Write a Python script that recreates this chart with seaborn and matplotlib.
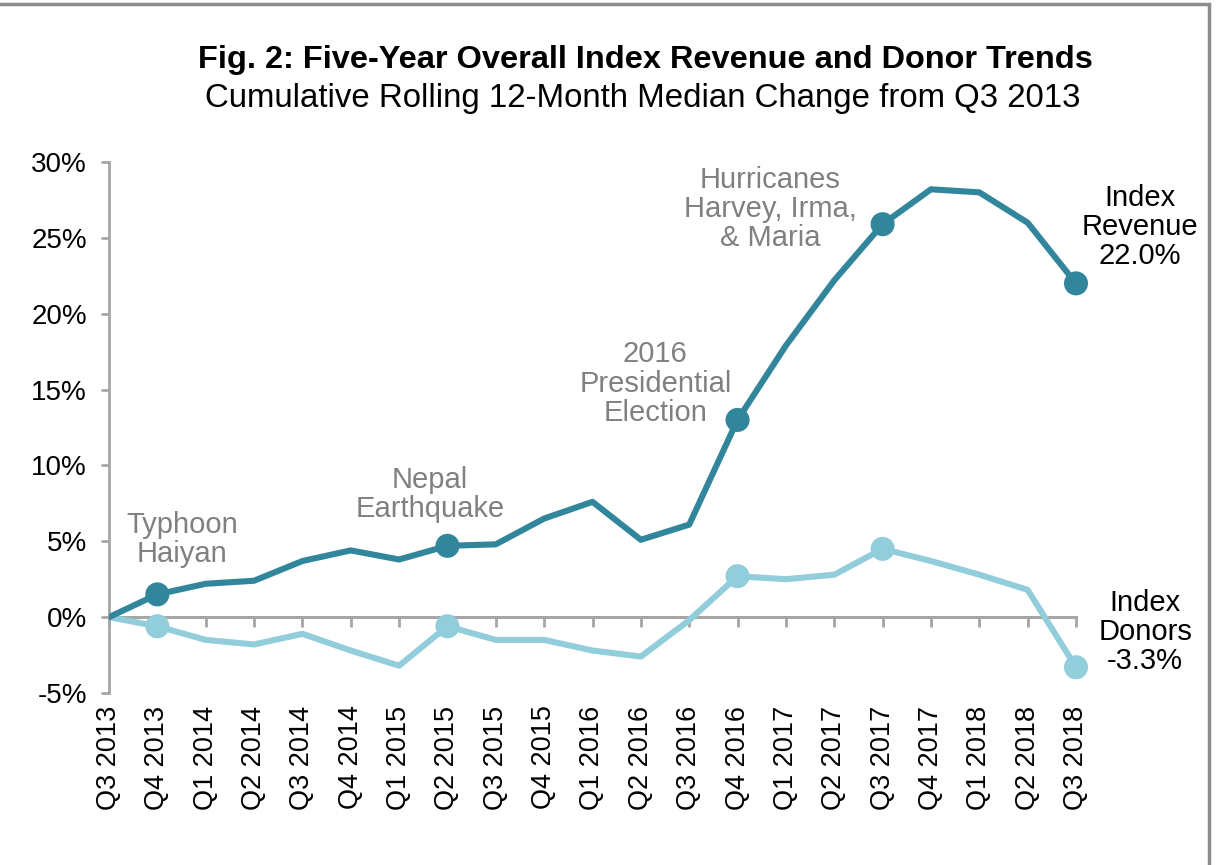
import matplotlib
matplotlib.use("Agg")
import matplotlib.pyplot as plt
import matplotlib.ticker as mticker
from matplotlib.patches import Rectangle
import seaborn as sns
import pandas as pd

quarters = ["Q3 2013", "Q4 2013", "Q1 2014", "Q2 2014", "Q3 2014", "Q4 2014",
            "Q1 2015", "Q2 2015", "Q3 2015", "Q4 2015", "Q1 2016", "Q2 2016",
            "Q3 2016", "Q4 2016", "Q1 2017", "Q2 2017", "Q3 2017", "Q4 2017",
            "Q1 2018", "Q2 2018", "Q3 2018"]
revenue = [0.0, 1.5, 2.2, 2.4, 3.7, 4.4, 3.8, 4.7, 4.8, 6.5, 7.6, 5.1,
           6.1, 13.0, 17.9, 22.2, 25.9, 28.2, 28.0, 26.0, 22.0]
donors = [0.0, -0.6, -1.5, -1.8, -1.1, -2.2, -3.2, -0.6, -1.5, -1.5, -2.2, -2.6,
          -0.2, 2.7, 2.5, 2.8, 4.5, 3.7, 2.8, 1.8, -3.3]
event_quarters = ["Q4 2013", "Q2 2015", "Q4 2016", "Q3 2017", "Q3 2018"]
event_labels = ["Typhoon\nHaiyan", "Nepal\nEarthquake", "2016\nPresidential\nElection",
                "Hurricanes\nHarvey, Irma,\n& Maria"]

REV_COLOR = "#31869B"
DON_COLOR = "#92CDDC"
GRAY = "#808080"

sns.set_theme(style="white")
plt.rcParams["font.family"] = ["Liberation Sans", "DejaVu Sans"]

df = pd.DataFrame({"x": range(len(quarters)), "quarter": quarters,
                   "revenue": revenue, "donors": donors})
events = df[df["quarter"].isin(event_quarters)]

fig = plt.figure(figsize=(12.16, 8.65), dpi=100)
ax = fig.add_axes([109 / 1216, 1 - 693 / 865, (1076 - 109) / 1216, (693 - 162) / 865])

sns.lineplot(data=df, x="x", y="donors", color=DON_COLOR, linewidth=4.4, ax=ax,
             zorder=3)
sns.lineplot(data=df, x="x", y="revenue", color=REV_COLOR, linewidth=4.4, ax=ax,
             zorder=4)
sns.scatterplot(data=events, x="x", y="donors", color=DON_COLOR, s=300,
                edgecolor="none", ax=ax, zorder=3, clip_on=False)
sns.scatterplot(data=events, x="x", y="revenue", color=REV_COLOR, s=300,
                edgecolor="none", ax=ax, zorder=4, clip_on=False)

ax.set_xlim(0, len(quarters) - 1)
ax.set_ylim(-5, 30)
ax.set_xlabel("")
ax.set_ylabel("")

# y axis
ax.yaxis.set_major_locator(mticker.MultipleLocator(5))
ax.yaxis.set_major_formatter(mticker.FuncFormatter(lambda v, p: f"{v:.0f}%"))
ax.tick_params(axis="y", which="major", direction="out", length=6, width=2,
               color="#A6A6A6", labelsize=20, labelcolor="black", pad=10, left=True)
for s in ["top", "right", "bottom"]:
    ax.spines[s].set_visible(False)
ax.spines["left"].set_color("#A6A6A6")
ax.spines["left"].set_linewidth(2)

# category labels along the bottom
ax.set_xticks(df["x"])
ax.set_xticklabels(quarters, rotation=90, fontsize=19.5, color="black")
ax.tick_params(axis="x", length=0, pad=9)

# zero line with category tick marks
sec = ax.secondary_xaxis(5 / 35)
sec.set_xticks(df["x"])
sec.set_xticklabels([])
sec.tick_params(axis="x", direction="out", length=7, width=2, color="#A6A6A6")
sec.spines["bottom"].set_color("#A6A6A6")
sec.spines["bottom"].set_linewidth(2.2)
for s in ["top", "left", "right"]:
    sec.spines[s].set_visible(False)

# event annotations
ann_pos = [(1.51, 5.1), (6.64, 8.1), (11.3, 15.4), (13.67, 26.9)]
for (tx, ty), label in zip(ann_pos, event_labels):
    ax.text(tx, ty, label, ha="center", va="center", fontsize=21, color=GRAY,
            linespacing=1.05, clip_on=False)

# series end labels
ax.text(21.32, 25.7, f"Index\nRevenue\n{revenue[-1]:.1f}%", ha="center", va="center",
        fontsize=21, color="black", linespacing=1.05, clip_on=False)
ax.text(21.43, -1.0, f"Index\nDonors\n{donors[-1]:.1f}%", ha="center", va="center",
        fontsize=21, color="black", linespacing=1.05, clip_on=False)

fig.text(645 / 1216, 1 - 60 / 865, "Fig. 2: Five-Year Overall Index Revenue and Donor Trends",
         ha="center", va="center", fontsize=23.4, fontweight="bold", color="black")
fig.text(643 / 1216, 1 - 98 / 865, "Cumulative Rolling 12-Month Median Change from Q3 2013",
         ha="center", va="center", fontsize=23.8, color="black")

fig.patches.append(Rectangle((-0.01, -0.01), 1209.5 / 1216 + 0.01, (865 - 3.5) / 865 + 0.01,
                             transform=fig.transFigure, fill=False,
                             edgecolor="#8C8C8C", linewidth=2.5))

fig.savefig("out.png", dpi=100, facecolor="white")
